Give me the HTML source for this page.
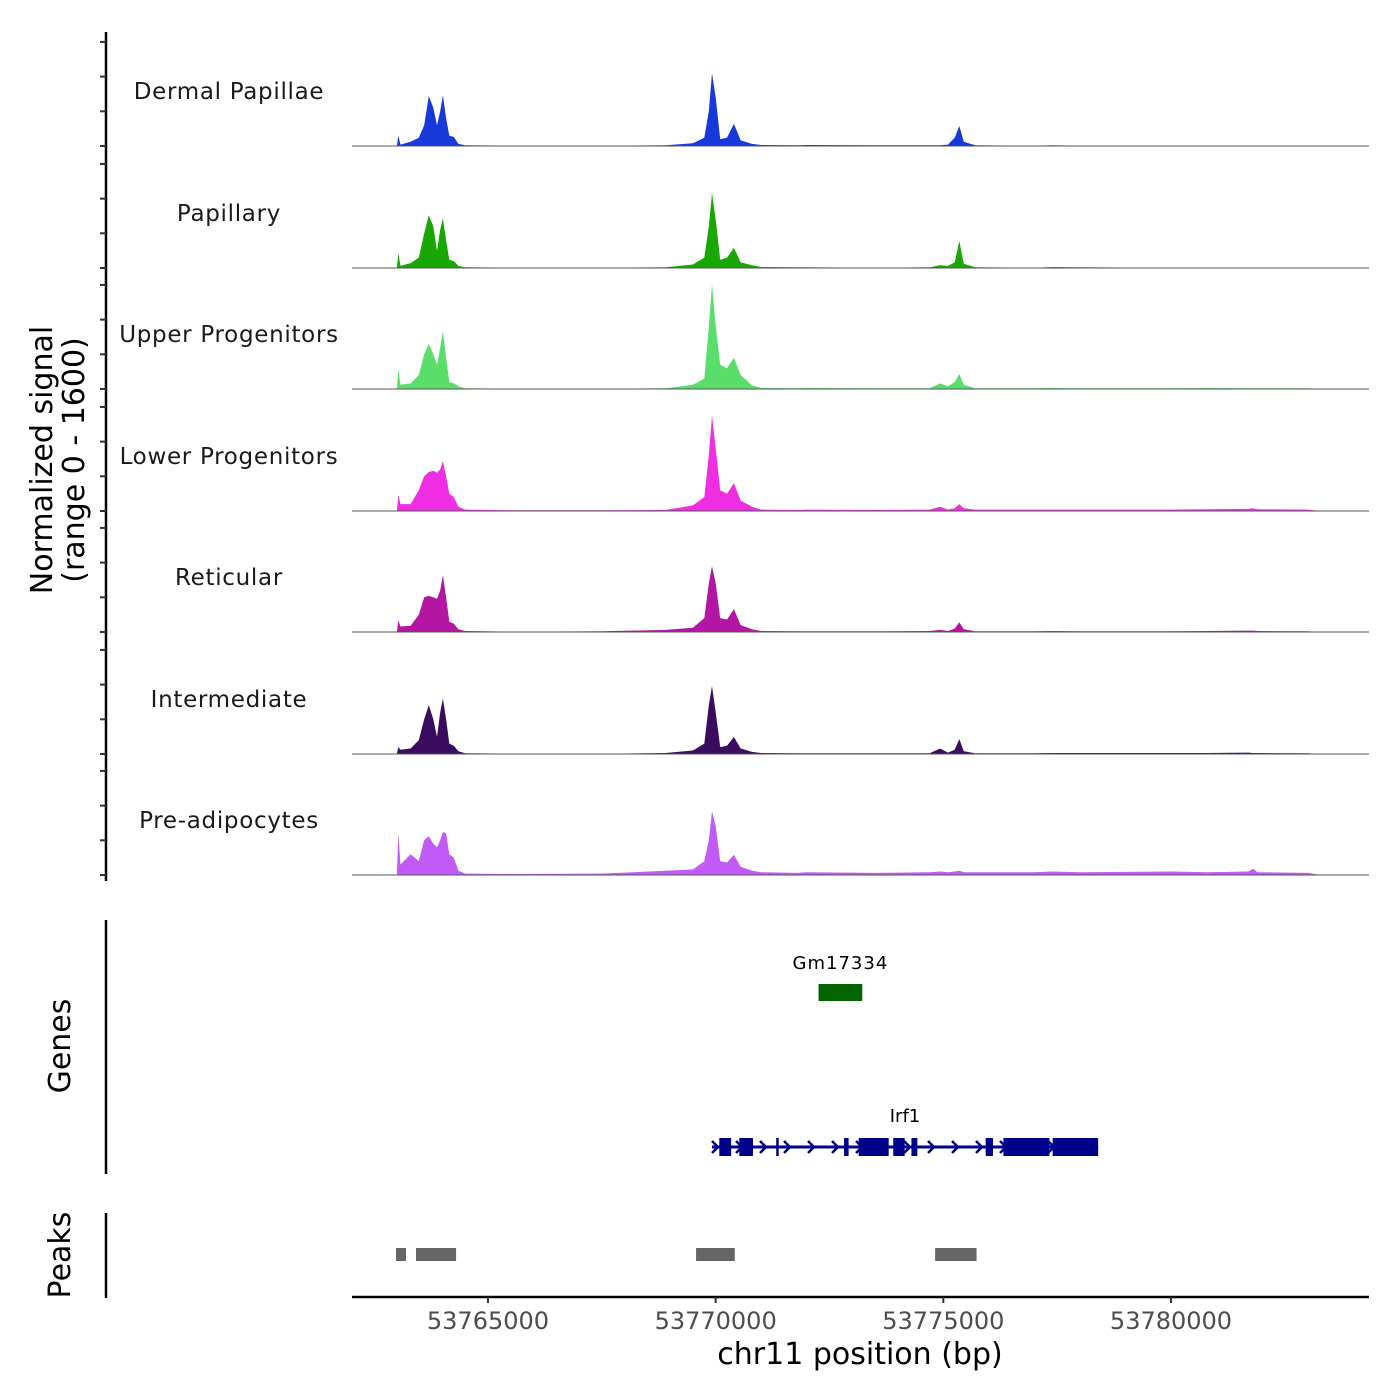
<!DOCTYPE html>
<html><head><meta charset="utf-8"><style>
html,body{margin:0;padding:0;background:#fff;}
svg{display:block;font-family:"DejaVu Sans","Liberation Sans",sans-serif;}
</style></head><body>
<svg id="chart" width="1400" height="1400" viewBox="0 0 1400 1400" xmlns="http://www.w3.org/2000/svg">
<rect width="1400" height="1400" fill="#fff"/>
<g id="tracks"></g>
<g id="yaxis"></g>
<text x="52" y="460" font-size="30" fill="#000" text-anchor="middle" transform="rotate(-90 52 460)">Normalized signal</text>
<text x="84" y="460" font-size="30" fill="#000" text-anchor="middle" transform="rotate(-90 84 460)">(range 0 - 1600)</text>
<line x1="106" y1="920" x2="106" y2="1174" stroke="#000" stroke-width="2.5"/>
<text x="70" y="1046" font-size="30" text-anchor="middle" transform="rotate(-90 70 1046)">Genes</text>
<line x1="106" y1="1213" x2="106" y2="1298" stroke="#000" stroke-width="2.5"/>
<text x="70" y="1255" font-size="30" text-anchor="middle" transform="rotate(-90 70 1255)">Peaks</text>
<g id="genes"></g>
<g id="peaks"></g>
<g id="xaxis"></g>
<text x="860" y="1364" font-size="30" text-anchor="middle" fill="#000">chr11 position (bp)</text>
</svg>
<script>
const positions=[53763000,53763030,53763080,53763300,53763480,53763600,53763700,53763800,53763880,53763950,53764010,53764080,53764150,53764250,53764350,53764500,53765500,53767500,53768900,53769500,53769750,53769850,53769920,53770000,53770100,53770250,53770400,53770550,53770800,53771000,53771800,53772000,53773500,53774700,53774930,53775100,53775250,53775350,53775450,53775700,53777000,53777400,53778000,53780000,53780800,53781700,53781800,53781900,53783000,53783300];
const trackNames=["Dermal Papillae","Papillary","Upper Progenitors","Lower Progenitors","Reticular","Intermediate","Pre-adipocytes"];
const sigDermal=[0,150,20,60,120,300,720,550,300,500,730,400,150,130,30,10,5,5,10,40,120,500,1050,700,100,120,320,80,30,15,10,15,10,10,10,20,120,290,60,10,5,10,5,5,5,5,5,5,5,0];
const sigPapillary=[0,215,30,70,150,500,760,600,250,550,720,400,120,100,30,10,5,5,10,50,150,600,1080,700,120,150,290,80,40,15,10,10,5,10,40,30,80,390,60,10,5,15,10,5,5,5,5,5,5,0];
const sigUpper=[0,290,60,80,200,500,650,500,350,600,835,450,100,80,40,10,5,5,10,60,150,900,1510,900,350,300,450,200,50,15,10,15,10,10,80,40,100,215,60,10,10,15,10,10,15,10,10,10,10,0];
const sigLower=[0,230,100,100,300,500,560,580,550,600,720,500,250,200,60,20,10,10,15,80,200,800,1370,900,300,250,400,150,60,20,15,20,15,20,60,20,40,100,40,20,20,20,20,20,25,30,40,25,20,0];
const sigReticular=[0,170,80,90,250,500,520,500,480,600,820,500,150,120,40,15,5,10,30,60,200,700,950,700,200,180,330,100,40,15,10,10,10,15,30,15,50,140,40,10,10,15,10,10,15,20,20,15,10,0];
const sigIntermediate=[0,100,60,80,200,500,705,500,250,600,800,500,150,120,40,10,5,5,15,50,150,700,980,600,100,120,245,80,30,15,10,10,10,10,80,20,60,215,40,10,10,15,15,15,15,20,15,15,10,0];
const sigPreadipo=[0,600,150,300,200,500,560,450,400,500,620,600,300,250,60,20,15,20,60,80,200,500,920,700,200,180,290,120,60,40,30,40,30,40,50,40,50,60,40,40,40,50,40,50,40,50,90,40,30,0];
const trackColors=["#1739d9","#19a803","#5ade6b","#ef2de3","#b416a3","#3a0b5e","#c25af7"];
const xTicks=[53765000,53770000,53775000,53780000];
const yTicks=[0,500,1000,1500];
const peakStarts=[53762980,53763420,53769570,53774820];
const peakEnds=[53763200,53764300,53770420,53775730];
const irf1Exons=[[53770080,53770340],[53770520,53770820],[53771330,53771380],[53772820,53772920],[53773140,53773800],[53773900,53774150],[53774300,53774430],[53775930,53776090],[53776320,53777330],[53777400,53778400]];
const irf1Range=[53769920,53778400];
const gmRange=[53772260,53773220];

const ns="http://www.w3.org/2000/svg";
const X0=352,X1=1369,BP0=53762014,BP1=53784348;
function xs(bp){return X0+(bp-BP0)/(BP1-BP0)*(X1-X0);}
const baselines=[146,268,389,511,632,754,875];
const PXU=111/1600;
function ys(v,i){return baselines[i]-v*PXU;}
function mk(tag,attrs,parent){const e=document.createElementNS(ns,tag);for(const k in attrs)e.setAttribute(k,attrs[k]);parent.appendChild(e);return e;}
const series=[sigDermal,sigPapillary,sigUpper,sigLower,sigReticular,sigIntermediate,sigPreadipo];
const tg=document.getElementById('tracks');
series.forEach((s,i)=>{
  let d="M"+xs(positions[0])+","+baselines[i];
  positions.forEach((p,j)=>{d+=" L"+xs(p).toFixed(1)+","+ys(s[j],i).toFixed(1);});
  d+=" L"+xs(positions[positions.length-1])+","+baselines[i]+"Z";
  const a=mk('path',{d:d,fill:trackColors[i]},tg);
  
  
  const l=mk('line',{x1:X0,x2:X1,y1:baselines[i],y2:baselines[i],stroke:'#555',"stroke-width":1},tg);
  
  
  const t=mk('text',{x:229,y:baselines[i]-47,"font-size":23,"text-anchor":"middle",fill:"#1a1a1a","letter-spacing":"0.7"},tg);
  t.textContent=trackNames[i];
  
  
});
const ya=document.getElementById('yaxis');
const yl=mk('line',{x1:106,x2:106,y1:32,y2:881,stroke:'#000',"stroke-width":2.5},ya);


baselines.forEach((b,i)=>{yTicks.forEach(v=>{const y=ys(v,i);
  const tk=mk('line',{x1:100,x2:106,y1:y,y2:y,stroke:'#333',"stroke-width":2},ya);
  
  });});
const gg=document.getElementById('genes');
const gmx0=xs(gmRange[0]),gmx1=xs(gmRange[1]);
const gm=mk('rect',{x:gmx0,y:984,width:gmx1-gmx0,height:17,fill:'#006400'},gg);


const gl=mk('text',{x:(gmx0+gmx1)/2,y:969,"font-size":18,"text-anchor":"middle","letter-spacing":"1"},gg);
gl.textContent="Gm17334";


const ix0=xs(irf1Range[0]),ix1=xs(irf1Range[1]);
const il=mk('line',{x1:ix0,x2:ix1,y1:1147,y2:1147,stroke:'#00008b',"stroke-width":3},gg);


for(let x=ix0+4;x<ix1;x+=24){
  const c=mk('path',{d:`M${x-4},${1141} L${x+2},${1147} L${x-4},${1153}`,fill:'none',stroke:'#00008b',"stroke-width":2.5},gg);
  
  
}
irf1Exons.forEach(e=>{const a=xs(e[0]),b=xs(e[1]);
  const r=mk('rect',{x:a,y:1138,width:Math.max(2.5,b-a),height:18,fill:'#00008b'},gg);
  
  });
const itl=mk('text',{x:905,y:1122,"font-size":18,"text-anchor":"middle"},gg);
itl.textContent="Irf1";


const pg=document.getElementById('peaks');
peakStarts.forEach((s,i)=>{const a=xs(s),b=xs(peakEnds[i]);
  const r=mk('rect',{x:a,y:1248,width:b-a,height:13,fill:'#666'},pg);
  
  });
const xa=document.getElementById('xaxis');
const xl=mk('line',{x1:X0,x2:X1,y1:1297,y2:1297,stroke:'#000',"stroke-width":2.5},xa);


xTicks.forEach(v=>{const x=xs(v);
  const tk=mk('line',{x1:x,x2:x,y1:1297,y2:1303,stroke:'#333',"stroke-width":2},xa);
  
  
  const t=mk('text',{x:x,y:1329,"font-size":24,"text-anchor":"middle",fill:"#4d4d4d"},xa);
  t.textContent=String(v);
  
  });
</script>
</body></html>
